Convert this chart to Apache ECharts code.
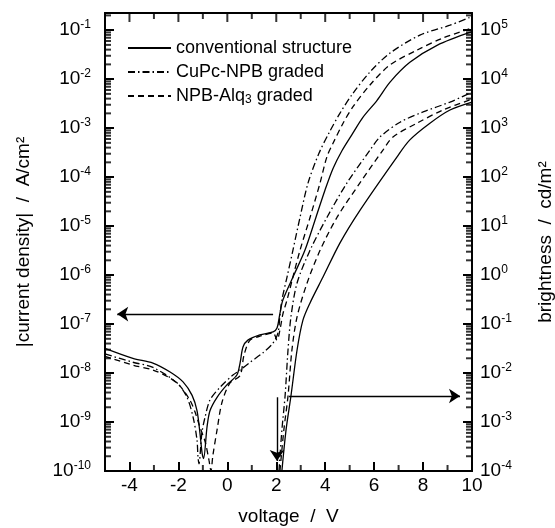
<!DOCTYPE html>
<html>
<head>
<meta charset="utf-8">
<script src="https://cdn.jsdelivr.net/npm/echarts@6/dist/echarts.min.js"></script>
<style>
html, body { margin: 0; padding: 0; background: #fff; }
#chart { width: 555px; height: 528px; }
</style>
</head>
<body>
<div id="chart"></div>
<script>
// voltage (V), |current density| (A/cm2)
var curConventional = [[-5, 3.2e-8], [-3.86, 2.0e-8], [-3.04, 1.6e-8], [-2.34, 1.05e-8], [-1.81, 6.6e-9], [-1.44, 3.5e-9], [-1.24, 1.7e-9], [-1.12, 6.0e-10], [-1.03, 2.3e-10], [-0.97, 1.8e-10], [-0.83, 7.9e-10], [-0.71, 1.7e-9], [-0.42, 3.2e-9], [-0.01, 5.8e-9], [0.39, 9.1e-9], [0.52, 1.6e-8], [0.64, 3.4e-8], [0.84, 4.7e-8], [1.33, 6.0e-8], [1.87, 6.9e-8], [2.03, 8.3e-8], [2.15, 1.66e-7], [2.27, 3.1e-7], [2.72, 1.0e-6], [3.17, 3.2e-6], [3.62, 1.5e-5], [3.99, 5.4e-5], [4.32, 1.5e-4], [4.69, 3.5e-4], [5.13, 7.9e-4], [5.54, 1.66e-3], [6.12, 3.7e-3], [6.65, 8.7e-3], [7.46, 2.2e-2], [8.57, 4.9e-2], [10, 9.3e-2]]
var curCuPc = [[-5, 2.45e-8], [-3.86, 1.66e-8], [-3.04, 1.3e-8], [-2.06, 6.3e-9], [-1.65, 3.2e-9], [-1.40, 1.26e-9], [-1.24, 4.3e-10], [-1.20, 1.95e-10], [-1.16, 1.4e-10], [-1.04, 6.0e-10], [-0.91, 1.26e-9], [-0.71, 2.8e-9], [-0.30, 5.1e-9], [0.23, 9.1e-9], [0.52, 1.15e-8], [0.93, 1.66e-8], [1.46, 2.6e-8], [1.87, 4.1e-8], [2.07, 6.6e-8], [2.15, 1.5e-7], [2.23, 3.1e-7], [2.44, 9.1e-7], [2.68, 3.2e-6], [2.97, 1.5e-5], [3.30, 7.6e-5], [3.75, 3.1e-4], [4.15, 7.9e-4], [4.60, 2.0e-3], [5.13, 5.1e-3], [5.83, 1.4e-2], [6.65, 3.4e-2], [7.87, 7.9e-2], [9.10, 1.26e-1], [10, 1.9e-1]]
var curNPB = [[-5, 2.2e-8], [-3.86, 1.45e-8], [-3.04, 1.15e-8], [-2.34, 7.9e-9], [-1.93, 5.4e-9], [-1.53, 2.8e-9], [-1.32, 1.6e-9], [-1.12, 7.9e-10], [-0.91, 4.0e-10], [-0.75, 1.66e-10], [-0.67, 1.0e-10], [-0.59, 2.1e-10], [-0.42, 6.9e-10], [-0.22, 2.5e-9], [0.11, 6.3e-9], [0.52, 8.9e-9], [0.68, 2.3e-8], [0.93, 4.7e-8], [1.42, 5.8e-8], [1.87, 6.6e-8], [2.03, 4.7e-8], [2.15, 7.6e-8], [2.27, 1.6e-7], [2.44, 3.1e-7], [2.68, 9.1e-7], [2.97, 3.2e-6], [3.38, 1.5e-5], [3.79, 7.6e-5], [4.07, 2.6e-4], [4.32, 4.9e-4], [4.73, 1.26e-3], [5.13, 2.7e-3], [5.83, 7.6e-3], [6.65, 1.95e-2], [7.75, 3.9e-2], [8.81, 6.9e-2], [10, 1.1e-1]]

// voltage (V), brightness (cd/m2)
var lumConventional = [[2.23, 1e-4], [2.40, 6.9e-4], [2.60, 3.4e-3], [2.85, 2.95e-2], [3.09, 0.12], [3.38, 0.27], [3.91, 0.91], [4.60, 4.5], [5.42, 21], [6.93, 257], [7.46, 575], [8.28, 1260], [9.10, 2340], [10, 3400]]
var lumCuPc = [[2.11, 1e-4], [2.23, 6.9e-4], [2.36, 3.4e-3], [2.48, 2.95e-2], [2.60, 0.14], [2.85, 0.69], [3.38, 3.2], [4.07, 15], [4.89, 76], [5.83, 355], [6.24, 660], [7.06, 1320], [8.0, 2140], [9.10, 3400], [10, 5400]]
var lumNPB = [[2.15, 1e-4], [2.31, 6.9e-4], [2.48, 3.4e-3], [2.64, 2.95e-2], [2.85, 0.14], [3.26, 0.69], [3.79, 3.2], [4.48, 15], [5.42, 76], [6.36, 355], [6.77, 660], [7.75, 1260], [8.81, 2340], [10, 3900]]

// annotation arrows: [from, to] as [voltage, value]
var arrowCurrent = [[1.87, 1.6e-7], [-4.5, 1.6e-7]]
var arrowLumRight = [[2.52, 3.4e-3], [9.51, 3.4e-3]]
var arrowLumDown = [[2.03, 3.2e-3], [2.03, 1.6e-4]]

var seriesNames = ['conventional structure', 'CuPc-NPB graded', 'NPB-Alq3 graded']
var xMajorTicks = [-4, -2, 0, 2, 4, 6, 8, 10]
var xMinorTicks = [-3, -1, 1, 3, 5, 7, 9]
var curDecades = [-10, -9, -8, -7, -6, -5, -4, -3, -2, -1]
var lumDecades = [-4, -3, -2, -1, 0, 1, 2, 3, 4, 5]
var xRange = [-5, 10]
var curRange = [-10, -0.65]
var lumRange = [-4, 5.35]

var FONT = 'Liberation Sans, Arial, sans-serif'

function lg (arr) {
  return arr.map(function (p) { return [p[0], Math.log10(p[1])] })
}

function minorLog (decades, range) {
  var out = []
  decades.forEach(function (d) {
    for (var k = 2; k <= 9; k++) {
      var v = d + Math.log10(k)
      if (v < range[1]) out.push(v)
    }
  })
  return out
}

function powLabel (v) {
  return '{b|10}{s|' + Math.round(v) + '}'
}

var labelRich = {
  b: { fontSize: 19, fontFamily: FONT, color: '#000', lineHeight: 22 },
  s: { fontSize: 12, fontFamily: FONT, color: '#000', verticalAlign: 'top', lineHeight: 12 }
}

function yAx (pos, range, name, gap) {
  return {
    type: 'value',
    position: pos,
    min: range[0],
    max: range[1],
    splitLine: { show: false },
    axisLine: { show: true, onZero: false, lineStyle: { color: '#000', width: 1.8 } },
    axisTick: { show: true, inside: true, length: 9, customValues: pos === 'left' ? curDecades : lumDecades, lineStyle: { color: '#000', width: 2 } },
    axisLabel: {
      customValues: pos === 'left' ? curDecades : lumDecades,
      margin: pos === 'left' ? 14 : 8,
      formatter: powLabel,
      rich: labelRich
    },
    name: name,
    nameLocation: 'middle',
    nameGap: gap,
    nameTextStyle: { color: '#000', fontSize: 19, fontFamily: FONT }
  }
}

// small frame ticks as rect symbols placed by the axes' scales, nudged inward
function tickMarks (yIdx, points, size, offset) {
  return {
    type: 'scatter',
    xAxisIndex: 0,
    yAxisIndex: yIdx,
    clip: false,
    data: points,
    symbol: 'rect',
    symbolSize: size,
    symbolOffset: offset,
    itemStyle: { color: '#000' }
  }
}

function at (xs, y) { return xs.map(function (x) { return [x, y] }) }
function atY (x, ys) { return ys.map(function (y) { return [x, y] }) }

var dashed = [6, 4]
var dashDot = [7, 3, 1.5, 3]
var styles = ['solid', dashDot, dashed]

function lineSeries (name, data, yIdx, style, markLine) {
  var s = {
    name: name,
    type: 'line',
    xAxisIndex: 0,
    yAxisIndex: yIdx,
    data: lg(data),
    symbol: 'none',
    showSymbol: false,
    smooth: 0.3,
    silent: true,
    emphasis: { disabled: true },
    lineStyle: { color: '#000', width: 1.3, type: style },
    itemStyle: { color: '#000' }
  }
  if (markLine) s.markLine = markLine
  return s
}

function arrowLine (arrows) {
  return {
    silent: true,
    symbol: ['none', 'arrow'],
    symbolSize: 11,
    label: { show: false },
    lineStyle: { color: '#000', width: 1.4, type: 'solid' },
    data: arrows.map(function (a) {
      return [{ coord: [a[0][0], Math.log10(a[0][1])] }, { coord: [a[1][0], Math.log10(a[1][1])] }]
    })
  }
}

var chart = echarts.init(document.getElementById('chart'))
var option = {
  animation: false,
  backgroundColor: '#fff',
  textStyle: { fontFamily: FONT },
  grid: {
    left: 105, right: 83, top: 13, bottom: 57,
    containLabel: false, outerBoundsMode: 'none',
    show: true, borderColor: '#000', borderWidth: 1.8
  },
  legend: {
    data: seriesNames,
    orient: 'vertical',
    left: 127,
    top: 39,
    padding: 0,
    itemWidth: 43,
    itemHeight: 14,
    itemGap: 6,
    itemStyle: { opacity: 0 },
    textStyle: {
      color: '#000',
      fontSize: 18,
      fontFamily: FONT,
      rich: {
        t: { fontSize: 18, fontFamily: FONT, color: '#000', lineHeight: 20 },
        sub: { fontSize: 12, fontFamily: FONT, color: '#000', verticalAlign: 'bottom', lineHeight: 12 }
      }
    },
    formatter: function (name) {
      if (name === 'NPB-Alq3 graded') return '{t|NPB-Alq}{sub|3}{t| graded}'
      return '{t|' + name + '}'
    },
    selectedMode: false
  },
  xAxis: [{
    type: 'value',
    position: 'bottom',
    min: xRange[0],
    max: xRange[1],
    splitLine: { show: false },
    axisLine: { show: true, onZero: false, lineStyle: { color: '#000', width: 1.8 } },
    axisTick: { show: true, inside: true, length: 9, customValues: xMajorTicks, lineStyle: { color: '#000', width: 2 } },
    axisLabel: { customValues: xMajorTicks, margin: 5, color: '#000', fontSize: 19, fontFamily: FONT },
    name: 'voltage  /  V',
    nameLocation: 'middle',
    nameGap: 36,
    nameTextStyle: { color: '#000', fontSize: 19, fontFamily: FONT }
  }],
  yAxis: [
    yAx('left', curRange, '|current density|  /  A/cm²', 72),
    yAx('right', lumRange, 'brightness  /  cd/m²', 64)
  ],
  series: [
    lineSeries(seriesNames[0], curConventional, 0, styles[0], arrowLine([arrowCurrent])),
    lineSeries(seriesNames[1], curCuPc, 0, styles[1]),
    lineSeries(seriesNames[2], curNPB, 0, styles[2]),
    lineSeries(seriesNames[0], lumConventional, 1, styles[0], arrowLine([arrowLumRight, arrowLumDown])),
    lineSeries(seriesNames[1], lumCuPc, 1, styles[1]),
    lineSeries(seriesNames[2], lumNPB, 1, styles[2]),
    tickMarks(0, atY(xRange[0], minorLog(curDecades, curRange)), [6, 2], [3, 0]),
    tickMarks(1, atY(xRange[1], minorLog(lumDecades, lumRange)), [6, 2], [-3, 0]),
    tickMarks(0, at(xMinorTicks, curRange[0]), [2, 6], [0, -3]),
    tickMarks(0, at(xMinorTicks, curRange[1]), [2, 6], [0, 3]),
    tickMarks(0, at(xMajorTicks.slice(0, -1), curRange[1]), [2, 9], [0, 4.5])
  ]
}
chart.setOption(option)
</script>
</body>
</html>
